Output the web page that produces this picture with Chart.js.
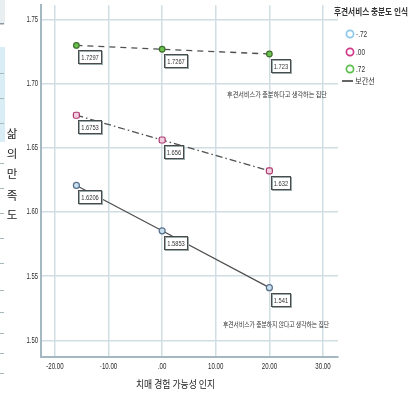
<!DOCTYPE html>
<html>
<head>
<meta charset="utf-8">
<script src="https://cdn.jsdelivr.net/npm/chart.js@4/dist/chart.umd.min.js"></script>
<style>
  body { margin: 0; background: #fff; }
  canvas { display: block; }
</style>
</head>
<body>
<canvas id="chart" width="413" height="398"></canvas>
<script>
// 데이터
const xValues = [-16, 0, 20];
const groupLabels = ['-.72', '.00', '.72'];
const lowValues = [1.6206, 1.5853, 1.541];
const midValues = [1.6753, 1.656, 1.632];
const highValues = [1.7297, 1.7267, 1.723];
const xTicks = [-20, -10, 0, 10, 20, 30];
const yTicks = [1.50, 1.55, 1.60, 1.65, 1.70, 1.75];

const xTitle = '치매 경험 가능성 인지';
const yTitle = '삶의 만족도';
const legendTitle = '후견서비스 충분도 인식';
const lineLegend = '보간선';
const noteHigh = '후견서비스가 충분하다고 생각하는 집단';
const noteLow = '후견서비스가 충분하지 않다고 생각하는 집단';

const legendColors = ['#8cc7ee', '#d0398a', '#5cbf4c'];
const gridColor = '#d0dee3';
const axisColor = '#a3b8c1';
const lineColor = '#505050';

function toPoints(vals) {
    return xValues.map((x, i) => ({ x: x, y: vals[i] }));
}

function fmtX(v) {
    if (v === 0) return '.00';
    return v.toFixed(2);
}

// 좁은 글꼴 흉내 (가로로 눌러 그림)
function narrowText(ctx, text, x, y, ratio) {
    const w = ctx.measureText(text).width;
    ctx.fillText(text, x, y, w * ratio);
}

const decorPlugin = {
    id: 'decor',
    beforeDraw(chart) {
        const ctx = chart.ctx;
        ctx.save();
        // 왼쪽 잘린 패널 흔적
        ctx.fillStyle = '#e9eef0';
        ctx.fillRect(0, 0, 5, 24);
        ctx.fillStyle = '#8a9aa2';
        ctx.fillRect(0, 23, 4, 1.5);
        ctx.fillStyle = '#d8edf6';
        ctx.fillRect(0, 47, 5, 95);
        ctx.strokeStyle = '#a9b6bc';
        ctx.lineWidth = 1;
        [73, 98, 123, 163, 188, 213, 238, 263, 290, 312, 333, 353, 373].forEach(t => {
            ctx.beginPath();
            ctx.moveTo(0, t + 0.5);
            ctx.lineTo(4, t + 0.5);
            ctx.stroke();
        });
        ctx.restore();
    },
    afterDraw(chart) {
        const ctx = chart.ctx;
        const xs = chart.scales.x;
        const ys = chart.scales.y;
        ctx.save();
        ctx.fillStyle = '#2a2a2a';

        // 눈금 라벨
        ctx.font = '9px "Liberation Sans", Arial, sans-serif';
        ctx.textBaseline = 'middle';
        ctx.textAlign = 'center';
        xTicks.forEach(v => {
            narrowText(ctx, fmtX(v), xs.getPixelForValue(v), 367, 0.68);
        });
        ctx.textAlign = 'right';
        yTicks.forEach(v => {
            narrowText(ctx, v.toFixed(2), 38, ys.getPixelForValue(v), 0.66);
        });

        // 축 제목
        ctx.font = '10.5px "Noto Sans CJK KR", sans-serif';
        ctx.textAlign = 'left';
        ctx.fillStyle = '#222';
        ctx.fillText(xTitle, 136, 384, 79);
        ctx.textAlign = 'center';
        ctx.font = '11.5px "Noto Sans CJK KR", sans-serif';
        const ys0 = [134, 154, 174, 196, 215];
        Array.from(yTitle.replace(' ', '')).forEach((ch, i) => {
            ctx.fillText(ch, 12, ys0[i]);
        });

        // 범례
        ctx.textAlign = 'left';
        ctx.font = 'bold 9px "Noto Sans CJK KR", sans-serif';
        ctx.fillStyle = '#333';
        ctx.fillText(legendTitle, 334, 12, 74);
        const ly = [34, 52, 69];
        ctx.font = '9px "Liberation Sans", Arial, sans-serif';
        groupLabels.forEach((lab, i) => {
            ctx.beginPath();
            ctx.arc(350, ly[i], 3.6, 0, Math.PI * 2);
            ctx.strokeStyle = legendColors[i];
            ctx.lineWidth = 1.7;
            ctx.stroke();
            ctx.fillStyle = '#333';
            narrowText(ctx, lab, 356, ly[i] + 0.5, 0.72);
        });
        ctx.strokeStyle = '#555';
        ctx.lineWidth = 1.8;
        ctx.beginPath();
        ctx.moveTo(342, 81);
        ctx.lineTo(353, 81);
        ctx.stroke();
        ctx.font = '8px "Noto Sans CJK KR", sans-serif';
        ctx.fillText(lineLegend, 355, 81, 20);

        // 집단 설명
        ctx.font = '6.5px "Noto Sans CJK KR", sans-serif';
        ctx.fillStyle = '#333';
        ctx.fillText(noteHigh, 227, 95, 100);
        ctx.fillText(noteLow, 223, 325, 106);
        ctx.restore();
    },
    afterDatasetsDraw(chart) {
        const ctx = chart.ctx;
        ctx.save();
        ctx.font = '8px "Liberation Sans", Arial, sans-serif';
        ctx.textBaseline = 'middle';
        ctx.textAlign = 'center';
        chart.data.datasets.forEach((ds, di) => {
            const meta = chart.getDatasetMeta(di);
            meta.data.forEach((pt, i) => {
                const txt = String(ds.data[i].y);
                const tw = ctx.measureText(txt).width * 0.72;
                const w = Math.round(tw + 5);
                const bx = Math.round(pt.x + 2) + 0.5;
                const by = Math.round(pt.y + 5) + 0.5;
                ctx.fillStyle = '#fff';
                ctx.fillRect(bx, by, w, 13);
                ctx.strokeStyle = '#9aa';
                ctx.lineWidth = 1;
                ctx.strokeRect(bx + 1, by + 1, w, 13);
                ctx.strokeStyle = '#4a4a4a';
                ctx.strokeRect(bx, by, w, 13);
                ctx.fillStyle = '#333';
                ctx.fillText(txt, bx + w / 2, by + 7, tw);
            });
        });
        ctx.restore();
    }
};

const ctx = document.getElementById('chart').getContext('2d');
new Chart(ctx, {
    type: 'scatter',
    data: {
        datasets: [
            {
                label: groupLabels[0],
                data: toPoints(lowValues),
                showLine: true,
                borderColor: lineColor,
                borderWidth: 1.3,
                pointStyle: 'circle',
                pointRadius: 3,
                pointBorderWidth: 1.2,
                pointBorderColor: '#56708a',
                pointBackgroundColor: '#c9e0f0'
            },
            {
                label: groupLabels[1],
                data: toPoints(midValues),
                showLine: true,
                borderColor: lineColor,
                borderWidth: 1.3,
                borderDash: [7, 3, 1.5, 3],
                pointStyle: 'rectRounded',
                pointRadius: 3.5,
                pointBorderWidth: 1.2,
                pointBorderColor: '#a8386f',
                pointBackgroundColor: '#f3cfe0'
            },
            {
                label: groupLabels[2],
                data: toPoints(highValues),
                showLine: true,
                borderColor: lineColor,
                borderWidth: 1.3,
                borderDash: [6, 5],
                pointStyle: 'circle',
                pointRadius: 2.8,
                pointBorderWidth: 1.2,
                pointBorderColor: '#3d6e2c',
                pointBackgroundColor: '#6cc24f'
            }
        ]
    },
    options: {
        responsive: false,
        animation: false,
        devicePixelRatio: 1,
        layout: { padding: { left: 0, right: 75, top: 4, bottom: 0 } },
        plugins: {
            legend: { display: false },
            tooltip: { enabled: false }
        },
        scales: {
            x: {
                type: 'linear',
                min: -22.6,
                max: 32.8,
                afterBuildTicks: s => { s.ticks = xTicks.map(v => ({ value: v })); },
                afterFit: s => { s.height = 41; },
                ticks: { display: false },
                grid: { color: gridColor, lineWidth: 1.5, drawTicks: false },
                border: { color: axisColor, width: 2 }
            },
            y: {
                type: 'linear',
                min: 1.487,
                max: 1.761,
                afterBuildTicks: s => { s.ticks = yTicks.map(v => ({ value: v })); },
                afterFit: s => { s.width = 41; },
                ticks: { display: false },
                grid: { color: gridColor, lineWidth: 1.5, drawTicks: false },
                border: { color: axisColor, width: 2 }
            }
        }
    },
    plugins: [decorPlugin]
});
</script>
</body>
</html>
